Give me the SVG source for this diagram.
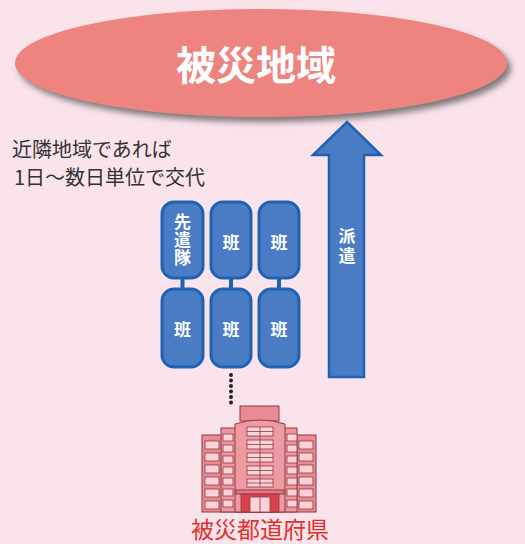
<svg xmlns="http://www.w3.org/2000/svg" width="525" height="544" viewBox="0 0 525 544">
  <defs>
    <filter id="shadow" x="-10%" y="-20%" width="125%" height="150%">
      <feDropShadow dx="4" dy="5" stdDeviation="3" flood-color="#555" flood-opacity="0.75"/>
    </filter>
    <style>
      .jp { font-family: "Noto Sans CJK JP", "Noto Sans CJK SC", sans-serif; }
      .unit { fill: #4a7cc6; stroke: #1f62b2; stroke-width: 3; }
      .unit-label { font-family: "Noto Sans CJK JP", sans-serif; font-weight: bold; font-size: 17px; fill: #ffffff; text-anchor: middle; }
      .vert { writing-mode: vertical-rl; }
      .link { stroke: #1f62b2; stroke-width: 4; }
      .bld { stroke: #8c3b44; stroke-width: 1; }
      .win { fill: #fbd2d7; stroke: #8c3b44; stroke-width: 0.8; }
    </style>
  </defs>

  <rect width="525" height="544" fill="#fbe3ec"/>

  <!-- destination region -->
  <g id="region">
    <ellipse cx="261" cy="63" rx="246" ry="54" fill="#ee847f" filter="url(#shadow)"/>
    <text x="256" y="80" class="jp" font-size="40" font-weight="bold" fill="#ffffff" text-anchor="middle">被災地域</text>
  </g>

  <!-- note -->
  <g id="note" class="jp" font-size="20" fill="#333333">
    <text x="12" y="157">近隣地域であれば</text>
    <text x="14" y="185">1日～数日単位で交代</text>
  </g>

  <!-- dispatch arrow -->
  <g id="dispatch">
    <polygon points="347,122 381,155 364,155 364,377 329,377 329,155 313,155" fill="#4a7cc6" stroke="#1f62b2" stroke-width="2.5" stroke-linejoin="miter"/>
    <text class="unit-label vert" font-size="18" letter-spacing="3" x="347" y="247">派遣</text>
  </g>

  <!-- connectors between teams -->
  <g id="connectors">
    <line class="link" x1="182.5" y1="278" x2="182.5" y2="289"/>
    <line class="link" x1="231" y1="278" x2="231" y2="289"/>
    <line class="link" x1="279" y1="278" x2="279" y2="289"/>
    <g fill="#222">
      <circle cx="231" cy="375" r="2"/>
      <circle cx="231" cy="380.5" r="2"/>
      <circle cx="231" cy="386" r="2"/>
      <circle cx="231" cy="391.5" r="2"/>
      <circle cx="231" cy="397" r="2"/>
      <circle cx="231" cy="402.5" r="2"/>
    </g>
  </g>

  <!-- teams -->
  <g id="advance-team">
    <rect class="unit" x="162" y="202" width="41" height="76" rx="12"/>
    <text class="unit-label vert" font-size="16" letter-spacing="1" x="182.5" y="240">先遣隊</text>
  </g>
  <g id="team-1">
    <rect class="unit" x="211" y="202" width="40" height="76" rx="12"/>
    <text class="unit-label" x="231" y="249">班</text>
  </g>
  <g id="team-2">
    <rect class="unit" x="259" y="202" width="40" height="76" rx="12"/>
    <text class="unit-label" x="279" y="249">班</text>
  </g>
  <g id="team-3">
    <rect class="unit" x="162" y="289" width="41" height="78" rx="12"/>
    <text class="unit-label" x="182.5" y="336">班</text>
  </g>
  <g id="team-4">
    <rect class="unit" x="211" y="289" width="40" height="78" rx="12"/>
    <text class="unit-label" x="231" y="336">班</text>
  </g>
  <g id="team-5">
    <rect class="unit" x="259" y="289" width="40" height="78" rx="12"/>
    <text class="unit-label" x="279" y="336">班</text>
  </g>

  <!-- prefectural office building -->
  <g id="prefecture">
    <!-- outer wings -->
    <rect class="bld" x="202" y="435" width="114" height="77" fill="#ea8a92"/>
    <!-- middle wings -->
    <rect class="bld" x="221" y="428" width="76" height="84" fill="#ee969d"/>
    <!-- penthouse -->
    <rect class="bld" x="240" y="406" width="39" height="15" fill="#ea8a92"/>
    <!-- central tower -->
    <path class="bld" d="M235,512 V424 Q260,416 285,424 V512 Z" fill="#ef9aa1"/>
    <!-- outer wing windows -->
    <g class="win">
      <rect x="205" y="441" width="14" height="8"/>
      <rect x="205" y="453" width="14" height="8"/>
      <rect x="205" y="465" width="14" height="8"/>
      <rect x="205" y="477" width="14" height="8"/>
      <rect x="205" y="489" width="14" height="8"/>
      <rect x="205" y="501" width="14" height="8"/>
      <rect x="299" y="441" width="14" height="8"/>
      <rect x="299" y="453" width="14" height="8"/>
      <rect x="299" y="465" width="14" height="8"/>
      <rect x="299" y="477" width="14" height="8"/>
      <rect x="299" y="489" width="14" height="8"/>
      <rect x="299" y="501" width="14" height="8"/>
      <!-- middle wing windows -->
      <rect x="223" y="434" width="10" height="7"/>
      <rect x="223" y="445" width="10" height="7"/>
      <rect x="223" y="456" width="10" height="7"/>
      <rect x="223" y="467" width="10" height="7"/>
      <rect x="223" y="478" width="10" height="7"/>
      <rect x="223" y="489" width="10" height="7"/>
      <rect x="223" y="500" width="10" height="7"/>
      <rect x="287" y="434" width="10" height="7"/>
      <rect x="287" y="445" width="10" height="7"/>
      <rect x="287" y="456" width="10" height="7"/>
      <rect x="287" y="467" width="10" height="7"/>
      <rect x="287" y="478" width="10" height="7"/>
      <rect x="287" y="489" width="10" height="7"/>
      <rect x="287" y="500" width="10" height="7"/>
      <!-- tower windows -->
      <rect x="247" y="427" width="26" height="9"/>
      <rect x="247" y="440" width="26" height="9"/>
      <rect x="247" y="453" width="26" height="9"/>
      <rect x="247" y="466" width="26" height="9"/>
      <rect x="247" y="479" width="26" height="8"/>
    </g>
    <g stroke="#8c3b44" stroke-width="0.8">
      <line x1="260" y1="427" x2="260" y2="487"/>
      <line x1="247" y1="431.5" x2="273" y2="431.5"/>
      <line x1="247" y1="444.5" x2="273" y2="444.5"/>
      <line x1="247" y1="457.5" x2="273" y2="457.5"/>
      <line x1="247" y1="470.5" x2="273" y2="470.5"/>
      <line x1="247" y1="483" x2="273" y2="483"/>
    </g>
    <!-- entrance -->
    <rect class="bld" x="236" y="490" width="48" height="4" fill="#e57780"/>
    <rect x="241" y="494" width="38" height="18" fill="#d9434d" stroke="#8c3b44" stroke-width="0.8"/>
    <rect x="250" y="497" width="20" height="15" fill="#fbd2d7" stroke="#8c3b44" stroke-width="0.8"/>
    <line x1="260" y1="497" x2="260" y2="512" stroke="#8c3b44" stroke-width="0.8"/>
    <text x="260" y="538" class="jp" font-size="23" fill="#e4302d" text-anchor="middle">被災都道府県</text>
  </g>
</svg>
